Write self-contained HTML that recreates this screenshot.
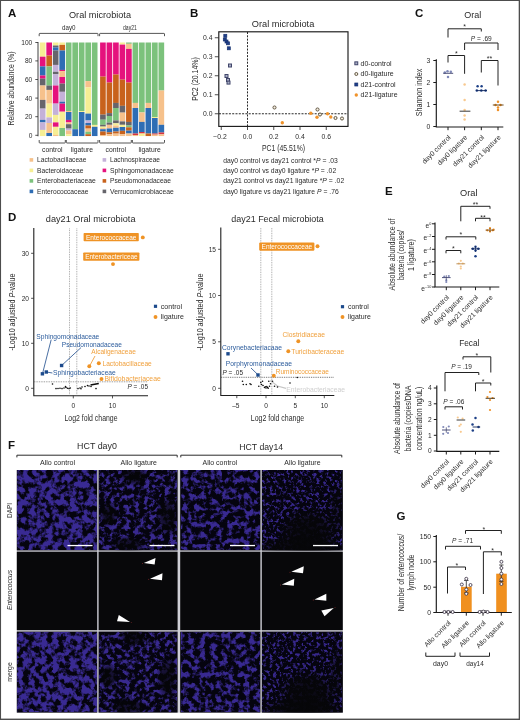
<!DOCTYPE html>
<html lang="en">
<head>
<meta charset="utf-8">
<title>Figure: oral and fecal microbiota after ligature placement</title>
<style>
html,body{margin:0;padding:0;background:#fff;}
body{width:520px;height:720px;overflow:hidden;font-family:"Liberation Sans", sans-serif;}
svg{display:block;font-family:"Liberation Sans", sans-serif;}
</style>
</head>
<body>
<svg width="520" height="720" viewBox="0 0 520 720">
<defs><filter id="nz1" x="0" y="0" width="100%" height="100%" color-interpolation-filters="sRGB"><feTurbulence type="fractalNoise" baseFrequency="0.17" numOctaves="3" seed="3" result="t"/><feColorMatrix in="t" type="matrix" values="0 0 0 0 0.225 0 0 0 0 0.165 0 0 0 0 0.575 5 0 0 0 -1.925"/></filter><filter id="nz2" x="0" y="0" width="100%" height="100%" color-interpolation-filters="sRGB"><feTurbulence type="fractalNoise" baseFrequency="0.2" numOctaves="3" seed="11" result="t"/><feColorMatrix in="t" type="matrix" values="0 0 0 0 0.22 0 0 0 0 0.16 0 0 0 0 0.56 5 0 0 0 -2.325"/></filter><filter id="nz3" x="0" y="0" width="100%" height="100%" color-interpolation-filters="sRGB"><feTurbulence type="fractalNoise" baseFrequency="0.18" numOctaves="3" seed="23" result="t"/><feColorMatrix in="t" type="matrix" values="0 0 0 0 0.22 0 0 0 0 0.16 0 0 0 0 0.57 5 0 0 0 -2.260"/></filter><filter id="nz4" x="0" y="0" width="100%" height="100%" color-interpolation-filters="sRGB"><feTurbulence type="fractalNoise" baseFrequency="0.3" numOctaves="3" seed="37" result="t"/><feColorMatrix in="t" type="matrix" values="0 0 0 0 0.215 0 0 0 0 0.155 0 0 0 0 0.55 5 0 0 0 -2.525"/></filter><radialGradient id="dk"><stop offset="0" stop-color="#060608" stop-opacity="0.95"/><stop offset="0.55" stop-color="#060608" stop-opacity="0.8"/><stop offset="1" stop-color="#060608" stop-opacity="0"/></radialGradient></defs>
<rect x="0" y="0" width="520" height="720" fill="#ffffff"/>
<text x="8.00" y="17.20" font-size="11.5" fill="#111" font-weight="bold">A</text>
<text x="69.00" y="18.30" font-size="9.4" fill="#2b2b2b" textLength="62.00" lengthAdjust="spacingAndGlyphs">Oral microbiota</text>
<text x="62.00" y="30.00" font-size="7" fill="#2b2b2b" textLength="13.50" lengthAdjust="spacingAndGlyphs">day0</text>
<text x="123.00" y="30.00" font-size="7" fill="#2b2b2b" textLength="13.80" lengthAdjust="spacingAndGlyphs">day21</text>
<path d="M39.2,36.2 V34 Q39.2,33.4 39.8,33.4 H97.4 Q98,33.4 98,34 V36.2" stroke="#2b2b2b" stroke-width="0.8" fill="none" />
<path d="M99.6,36.2 V34 Q99.6,33.4 100.2,33.4 H163.9 Q164.5,33.4 164.5,34 V36.2" stroke="#2b2b2b" stroke-width="0.8" fill="none" />
<line x1="38.00" y1="42.00" x2="38.00" y2="136.30" stroke="#2b2b2b" stroke-width="0.9" />
<line x1="35.30" y1="42.50" x2="38.00" y2="42.50" stroke="#2b2b2b" stroke-width="0.8" />
<text x="32.30" y="44.90" font-size="6.6" text-anchor="end" fill="#2b2b2b">100</text>
<line x1="35.30" y1="60.90" x2="38.00" y2="60.90" stroke="#2b2b2b" stroke-width="0.8" />
<text x="32.30" y="63.30" font-size="6.6" text-anchor="end" fill="#2b2b2b">80</text>
<line x1="35.30" y1="79.50" x2="38.00" y2="79.50" stroke="#2b2b2b" stroke-width="0.8" />
<text x="32.30" y="81.90" font-size="6.6" text-anchor="end" fill="#2b2b2b">60</text>
<line x1="35.30" y1="98.10" x2="38.00" y2="98.10" stroke="#2b2b2b" stroke-width="0.8" />
<text x="32.30" y="100.50" font-size="6.6" text-anchor="end" fill="#2b2b2b">40</text>
<line x1="35.30" y1="116.70" x2="38.00" y2="116.70" stroke="#2b2b2b" stroke-width="0.8" />
<text x="32.30" y="119.10" font-size="6.6" text-anchor="end" fill="#2b2b2b">20</text>
<line x1="35.30" y1="135.30" x2="38.00" y2="135.30" stroke="#2b2b2b" stroke-width="0.8" />
<text x="32.30" y="137.70" font-size="6.6" text-anchor="end" fill="#2b2b2b">0</text>
<text x="13.60" y="88.50" font-size="8.6" text-anchor="middle" fill="#2b2b2b" textLength="74.00" lengthAdjust="spacingAndGlyphs" transform="rotate(-90 13.60 88.50)">Relative abundance (%)</text>
<rect x="39.85" y="42.50" width="5.65" height="14.25" fill="#f6ee94" />
<rect x="39.85" y="56.70" width="5.65" height="9.75" fill="#e5127d" />
<rect x="39.85" y="66.40" width="5.65" height="9.15" fill="#2e6db4" />
<rect x="39.85" y="75.50" width="5.65" height="3.15" fill="#e5127d" />
<rect x="39.85" y="78.60" width="5.65" height="6.95" fill="#66656b" />
<rect x="39.85" y="85.50" width="5.65" height="14.45" fill="#f6c18b" />
<rect x="39.85" y="99.90" width="5.65" height="8.75" fill="#66656b" />
<rect x="39.85" y="108.60" width="5.65" height="11.35" fill="#c4b1d9" />
<rect x="39.85" y="119.90" width="5.65" height="2.55" fill="#2e6db4" />
<rect x="39.85" y="122.40" width="5.65" height="7.55" fill="#c4b1d9" />
<rect x="39.85" y="129.90" width="5.65" height="6.15" fill="#f6ee94" />
<rect x="46.35" y="42.50" width="5.65" height="13.05" fill="#e5127d" />
<rect x="46.35" y="55.50" width="5.65" height="10.95" fill="#c8621c" />
<rect x="46.35" y="66.40" width="5.65" height="19.15" fill="#7cc27c" />
<rect x="46.35" y="85.50" width="5.65" height="4.45" fill="#66656b" />
<rect x="46.35" y="89.90" width="5.65" height="13.75" fill="#f6c18b" />
<rect x="46.35" y="103.60" width="5.65" height="13.85" fill="#f6ee94" />
<rect x="46.35" y="117.40" width="5.65" height="5.65" fill="#c4b1d9" />
<rect x="46.35" y="123.00" width="5.65" height="10.05" fill="#f6c18b" />
<rect x="46.35" y="133.00" width="5.65" height="3.05" fill="#2e6db4" />
<rect x="52.85" y="42.50" width="5.65" height="3.05" fill="#f6ee94" />
<rect x="52.85" y="45.50" width="5.65" height="1.95" fill="#66656b" />
<rect x="52.85" y="47.40" width="5.65" height="3.15" fill="#2e6db4" />
<rect x="52.85" y="50.50" width="5.65" height="14.45" fill="#66656b" />
<rect x="52.85" y="64.90" width="5.65" height="6.95" fill="#c4b1d9" />
<rect x="52.85" y="71.80" width="5.65" height="2.55" fill="#66656b" />
<rect x="52.85" y="74.30" width="5.65" height="11.25" fill="#c4b1d9" />
<rect x="52.85" y="85.50" width="5.65" height="18.15" fill="#e5127d" />
<rect x="52.85" y="103.60" width="5.65" height="11.35" fill="#c4b1d9" />
<rect x="52.85" y="114.90" width="5.65" height="7.55" fill="#f6ee94" />
<rect x="52.85" y="122.40" width="5.65" height="4.45" fill="#e5127d" />
<rect x="52.85" y="126.80" width="5.65" height="8.15" fill="#f6ee94" />
<rect x="52.85" y="134.90" width="5.65" height="1.15" fill="#f6c18b" />
<rect x="59.35" y="42.50" width="5.65" height="2.45" fill="#f6ee94" />
<rect x="59.35" y="44.90" width="5.65" height="5.65" fill="#c8621c" />
<rect x="59.35" y="50.50" width="5.65" height="19.45" fill="#2e6db4" />
<rect x="59.35" y="69.90" width="5.65" height="1.25" fill="#e5127d" />
<rect x="59.35" y="71.10" width="5.65" height="5.95" fill="#f6c18b" />
<rect x="59.35" y="77.00" width="5.65" height="6.65" fill="#e5127d" />
<rect x="59.35" y="83.60" width="5.65" height="8.25" fill="#66656b" />
<rect x="59.35" y="91.80" width="5.65" height="9.95" fill="#c4b1d9" />
<rect x="59.35" y="101.70" width="5.65" height="1.95" fill="#2e6db4" />
<rect x="59.35" y="103.60" width="5.65" height="8.15" fill="#e5127d" />
<rect x="59.35" y="111.70" width="5.65" height="16.35" fill="#f6ee94" />
<rect x="59.35" y="128.00" width="5.65" height="8.05" fill="#7cc27c" />
<rect x="65.85" y="42.50" width="5.65" height="68.55" fill="#7cc27c" />
<rect x="65.85" y="111.00" width="5.65" height="1.05" fill="#f6c18b" />
<rect x="65.85" y="112.00" width="5.65" height="7.95" fill="#2e6db4" />
<rect x="65.85" y="119.90" width="5.65" height="2.55" fill="#e5127d" />
<rect x="65.85" y="122.40" width="5.65" height="1.85" fill="#f6c18b" />
<rect x="65.85" y="124.20" width="5.65" height="4.45" fill="#66656b" />
<rect x="65.85" y="128.60" width="5.65" height="1.95" fill="#c4b1d9" />
<rect x="65.85" y="130.50" width="5.65" height="3.75" fill="#f6c18b" />
<rect x="65.85" y="134.20" width="5.65" height="1.85" fill="#f6ee94" />
<rect x="72.35" y="42.50" width="5.65" height="86.75" fill="#7cc27c" />
<rect x="72.35" y="129.20" width="5.65" height="6.85" fill="#2e6db4" />
<rect x="78.85" y="42.50" width="5.65" height="68.55" fill="#7cc27c" />
<rect x="78.85" y="111.00" width="5.65" height="1.05" fill="#f6ee94" />
<rect x="78.85" y="112.00" width="5.65" height="24.05" fill="#2e6db4" />
<rect x="85.35" y="42.50" width="5.65" height="38.65" fill="#7cc27c" />
<rect x="85.35" y="81.10" width="5.65" height="6.35" fill="#f6c18b" />
<rect x="85.35" y="87.40" width="5.65" height="26.25" fill="#f6ee94" />
<rect x="85.35" y="113.60" width="5.65" height="6.95" fill="#2e6db4" />
<rect x="85.35" y="120.50" width="5.65" height="2.55" fill="#c4b1d9" />
<rect x="85.35" y="123.00" width="5.65" height="2.55" fill="#2e6db4" />
<rect x="85.35" y="125.50" width="5.65" height="3.15" fill="#c8621c" />
<rect x="85.35" y="128.60" width="5.65" height="3.15" fill="#f6c18b" />
<rect x="85.35" y="131.70" width="5.65" height="2.55" fill="#7cc27c" />
<rect x="85.35" y="134.20" width="5.65" height="1.85" fill="#c8621c" />
<rect x="91.85" y="42.50" width="5.65" height="82.45" fill="#7cc27c" />
<rect x="91.85" y="124.90" width="5.65" height="1.95" fill="#f6ee94" />
<rect x="91.85" y="126.80" width="5.65" height="9.25" fill="#2e6db4" />
<rect x="100.10" y="42.50" width="5.65" height="34.15" fill="#e5127d" />
<rect x="100.10" y="76.60" width="5.65" height="38.05" fill="#c8621c" />
<rect x="100.10" y="114.60" width="5.65" height="5.15" fill="#66656b" />
<rect x="100.10" y="119.70" width="5.65" height="5.15" fill="#7cc27c" />
<rect x="100.10" y="124.80" width="5.65" height="1.85" fill="#66656b" />
<rect x="100.10" y="126.60" width="5.65" height="1.45" fill="#f6ee94" />
<rect x="100.10" y="128.00" width="5.65" height="1.25" fill="#f6c18b" />
<rect x="100.10" y="129.20" width="5.65" height="2.35" fill="#2e6db4" />
<rect x="100.10" y="131.50" width="5.65" height="3.55" fill="#c8621c" />
<rect x="100.10" y="135.00" width="5.65" height="1.05" fill="#f6c18b" />
<rect x="106.59" y="42.50" width="5.65" height="40.05" fill="#e5127d" />
<rect x="106.59" y="82.50" width="5.65" height="30.65" fill="#c8621c" />
<rect x="106.59" y="113.10" width="5.65" height="2.95" fill="#66656b" />
<rect x="106.59" y="116.00" width="5.65" height="6.65" fill="#7cc27c" />
<rect x="106.59" y="122.60" width="5.65" height="2.25" fill="#66656b" />
<rect x="106.59" y="124.80" width="5.65" height="3.75" fill="#f6c18b" />
<rect x="106.59" y="128.50" width="5.65" height="3.85" fill="#2e6db4" />
<rect x="106.59" y="132.30" width="5.65" height="1.95" fill="#c8621c" />
<rect x="106.59" y="134.20" width="5.65" height="1.85" fill="#f6c18b" />
<rect x="113.08" y="42.50" width="5.65" height="32.05" fill="#e5127d" />
<rect x="113.08" y="74.50" width="5.65" height="28.45" fill="#c8621c" />
<rect x="113.08" y="102.90" width="5.65" height="5.15" fill="#66656b" />
<rect x="113.08" y="108.00" width="5.65" height="12.45" fill="#7cc27c" />
<rect x="113.08" y="120.40" width="5.65" height="2.95" fill="#66656b" />
<rect x="113.08" y="123.30" width="5.65" height="2.25" fill="#f6ee94" />
<rect x="113.08" y="125.50" width="5.65" height="2.35" fill="#f6c18b" />
<rect x="113.08" y="127.80" width="5.65" height="3.75" fill="#2e6db4" />
<rect x="113.08" y="131.50" width="5.65" height="2.15" fill="#c8621c" />
<rect x="113.08" y="133.60" width="5.65" height="2.45" fill="#f6c18b" />
<rect x="119.57" y="42.50" width="5.65" height="2.15" fill="#f6ee94" />
<rect x="119.57" y="44.60" width="5.65" height="35.05" fill="#e5127d" />
<rect x="119.57" y="79.60" width="5.65" height="26.25" fill="#c8621c" />
<rect x="119.57" y="105.80" width="5.65" height="6.85" fill="#66656b" />
<rect x="119.57" y="112.60" width="5.65" height="8.85" fill="#f6c18b" />
<rect x="119.57" y="121.40" width="5.65" height="3.45" fill="#66656b" />
<rect x="119.57" y="124.80" width="5.65" height="2.25" fill="#f6ee94" />
<rect x="119.57" y="127.00" width="5.65" height="3.85" fill="#2e6db4" />
<rect x="119.57" y="130.80" width="5.65" height="3.45" fill="#c8621c" />
<rect x="119.57" y="134.20" width="5.65" height="1.85" fill="#f6c18b" />
<rect x="126.06" y="42.50" width="5.65" height="1.35" fill="#7cc27c" />
<rect x="126.06" y="43.80" width="5.65" height="5.15" fill="#f6c18b" />
<rect x="126.06" y="48.90" width="5.65" height="33.65" fill="#e5127d" />
<rect x="126.06" y="82.50" width="5.65" height="39.45" fill="#c8621c" />
<rect x="126.06" y="121.90" width="5.65" height="3.65" fill="#66656b" />
<rect x="126.06" y="125.50" width="5.65" height="1.85" fill="#7cc27c" />
<rect x="126.06" y="127.30" width="5.65" height="3.35" fill="#c8621c" />
<rect x="126.06" y="130.60" width="5.65" height="2.95" fill="#2e6db4" />
<rect x="126.06" y="133.50" width="5.65" height="2.55" fill="#f6c18b" />
<rect x="132.55" y="42.50" width="5.65" height="60.45" fill="#7cc27c" />
<rect x="132.55" y="102.90" width="5.65" height="5.15" fill="#f6c18b" />
<rect x="132.55" y="108.00" width="5.65" height="25.55" fill="#2e6db4" />
<rect x="132.55" y="133.50" width="5.65" height="1.55" fill="#d8343f" />
<rect x="132.55" y="135.00" width="5.65" height="1.05" fill="#f6c18b" />
<rect x="139.04" y="42.50" width="5.65" height="69.95" fill="#7cc27c" />
<rect x="139.04" y="112.40" width="5.65" height="9.55" fill="#f6c18b" />
<rect x="139.04" y="121.90" width="5.65" height="10.15" fill="#2e6db4" />
<rect x="139.04" y="132.00" width="5.65" height="1.55" fill="#d8343f" />
<rect x="139.04" y="133.50" width="5.65" height="2.55" fill="#f6ee94" />
<rect x="145.53" y="42.50" width="5.65" height="60.45" fill="#7cc27c" />
<rect x="145.53" y="102.90" width="5.65" height="5.15" fill="#f6c18b" />
<rect x="145.53" y="108.00" width="5.65" height="25.55" fill="#2e6db4" />
<rect x="145.53" y="133.50" width="5.65" height="2.55" fill="#c8621c" />
<rect x="152.02" y="42.50" width="5.65" height="74.55" fill="#7cc27c" />
<rect x="152.02" y="117.00" width="5.65" height="1.05" fill="#f6ee94" />
<rect x="152.02" y="118.00" width="5.65" height="15.55" fill="#2e6db4" />
<rect x="152.02" y="133.50" width="5.65" height="1.15" fill="#d8343f" />
<rect x="152.02" y="134.60" width="5.65" height="1.45" fill="#f6c18b" />
<rect x="158.51" y="42.50" width="5.65" height="48.05" fill="#7cc27c" />
<rect x="158.51" y="90.50" width="5.65" height="34.35" fill="#f6c18b" />
<rect x="158.51" y="124.80" width="5.65" height="7.75" fill="#2e6db4" />
<rect x="158.51" y="132.50" width="5.65" height="1.85" fill="#d8343f" />
<rect x="158.51" y="134.30" width="5.65" height="1.75" fill="#f6c18b" />
<path d="M39.2,140 V142.3 Q39.2,143 39.9,143 H64.6 Q65.3,143 65.3,142.3 V140" stroke="#2b2b2b" stroke-width="0.8" fill="none" />
<path d="M66.3,140 V142.3 Q66.3,143 67,143 H97.3 Q98,143 98,142.3 V140" stroke="#2b2b2b" stroke-width="0.8" fill="none" />
<path d="M99.6,140 V142.3 Q99.6,143 100.3,143 H130.6 Q131.3,143 131.3,142.3 V140" stroke="#2b2b2b" stroke-width="0.8" fill="none" />
<path d="M132.4,140 V142.3 Q132.4,143 133.1,143 H163.8 Q164.5,143 164.5,142.3 V140" stroke="#2b2b2b" stroke-width="0.8" fill="none" />
<text x="42.00" y="152.00" font-size="7" fill="#2b2b2b" textLength="20.50" lengthAdjust="spacingAndGlyphs">control</text>
<text x="70.80" y="152.00" font-size="7" fill="#2b2b2b" textLength="22.20" lengthAdjust="spacingAndGlyphs">ligature</text>
<text x="105.50" y="152.00" font-size="7" fill="#2b2b2b" textLength="20.50" lengthAdjust="spacingAndGlyphs">control</text>
<text x="138.50" y="152.00" font-size="7" fill="#2b2b2b" textLength="22.20" lengthAdjust="spacingAndGlyphs">ligature</text>
<rect x="29.60" y="158.10" width="3.60" height="3.60" fill="#f6c18b" />
<text x="37.00" y="162.40" font-size="6.9" fill="#2b2b2b" textLength="49.50" lengthAdjust="spacingAndGlyphs">Lactobacillaceae</text>
<rect x="29.60" y="168.60" width="3.60" height="3.60" fill="#f6ee94" />
<text x="37.00" y="172.90" font-size="6.9" fill="#2b2b2b" textLength="46.50" lengthAdjust="spacingAndGlyphs">Bacteroidaceae</text>
<rect x="29.60" y="179.10" width="3.60" height="3.60" fill="#7cc27c" />
<text x="37.00" y="183.40" font-size="6.9" fill="#2b2b2b" textLength="58.70" lengthAdjust="spacingAndGlyphs">Enterobacteriaceae</text>
<rect x="29.60" y="189.60" width="3.60" height="3.60" fill="#2e6db4" />
<text x="37.00" y="193.90" font-size="6.9" fill="#2b2b2b" textLength="51.50" lengthAdjust="spacingAndGlyphs">Enterococcaceae</text>
<rect x="102.60" y="158.10" width="3.60" height="3.60" fill="#c4b1d9" />
<text x="110.00" y="162.40" font-size="6.9" fill="#2b2b2b" textLength="50.00" lengthAdjust="spacingAndGlyphs">Lachnospiraceae</text>
<rect x="102.60" y="168.60" width="3.60" height="3.60" fill="#e5127d" />
<text x="110.00" y="172.90" font-size="6.9" fill="#2b2b2b" textLength="63.70" lengthAdjust="spacingAndGlyphs">Sphingomonadaceae</text>
<rect x="102.60" y="179.10" width="3.60" height="3.60" fill="#c8621c" />
<text x="110.00" y="183.40" font-size="6.9" fill="#2b2b2b" textLength="61.00" lengthAdjust="spacingAndGlyphs">Pseudomonadaceae</text>
<rect x="102.60" y="189.60" width="3.60" height="3.60" fill="#66656b" />
<text x="110.00" y="193.90" font-size="6.9" fill="#2b2b2b" textLength="63.70" lengthAdjust="spacingAndGlyphs">Verrucomicrobiaceae</text>
<text x="190.00" y="17.20" font-size="11.5" fill="#111" font-weight="bold">B</text>
<text x="251.80" y="27.00" font-size="9.4" fill="#2b2b2b" textLength="62.50" lengthAdjust="spacingAndGlyphs">Oral microbiota</text>
<rect x="218.8" y="31.8" width="129.2" height="94.6" fill="none" stroke="#1a1a1a" stroke-width="1.15"/>
<line x1="214.80" y1="37.75" x2="218.80" y2="37.75" stroke="#2b2b2b" stroke-width="0.85" />
<text x="212.50" y="40.15" font-size="6.8" text-anchor="end" fill="#2b2b2b">0.4</text>
<line x1="214.80" y1="56.75" x2="218.80" y2="56.75" stroke="#2b2b2b" stroke-width="0.85" />
<text x="212.50" y="59.15" font-size="6.8" text-anchor="end" fill="#2b2b2b">0.3</text>
<line x1="214.80" y1="75.75" x2="218.80" y2="75.75" stroke="#2b2b2b" stroke-width="0.85" />
<text x="212.50" y="78.15" font-size="6.8" text-anchor="end" fill="#2b2b2b">0.2</text>
<line x1="214.80" y1="94.75" x2="218.80" y2="94.75" stroke="#2b2b2b" stroke-width="0.85" />
<text x="212.50" y="97.15" font-size="6.8" text-anchor="end" fill="#2b2b2b">0.1</text>
<line x1="214.80" y1="113.75" x2="218.80" y2="113.75" stroke="#2b2b2b" stroke-width="0.85" />
<text x="212.50" y="116.15" font-size="6.8" text-anchor="end" fill="#2b2b2b">0.0</text>
<line x1="221.25" y1="126.40" x2="221.25" y2="130.00" stroke="#2b2b2b" stroke-width="0.85" />
<text x="220.05" y="138.60" font-size="6.8" text-anchor="middle" fill="#2b2b2b">−0.2</text>
<line x1="247.50" y1="126.40" x2="247.50" y2="130.00" stroke="#2b2b2b" stroke-width="0.85" />
<text x="247.50" y="138.60" font-size="6.8" text-anchor="middle" fill="#2b2b2b">0.0</text>
<line x1="273.75" y1="126.40" x2="273.75" y2="130.00" stroke="#2b2b2b" stroke-width="0.85" />
<text x="273.75" y="138.60" font-size="6.8" text-anchor="middle" fill="#2b2b2b">0.2</text>
<line x1="300.00" y1="126.40" x2="300.00" y2="130.00" stroke="#2b2b2b" stroke-width="0.85" />
<text x="300.00" y="138.60" font-size="6.8" text-anchor="middle" fill="#2b2b2b">0.4</text>
<line x1="326.25" y1="126.40" x2="326.25" y2="130.00" stroke="#2b2b2b" stroke-width="0.85" />
<text x="326.25" y="138.60" font-size="6.8" text-anchor="middle" fill="#2b2b2b">0.6</text>
<line x1="247.50" y1="32.00" x2="247.50" y2="126.20" stroke="#111" stroke-width="0.9" stroke-dasharray="2 1.3"/>
<line x1="219.00" y1="113.75" x2="347.80" y2="113.75" stroke="#111" stroke-width="0.9" stroke-dasharray="2 1.3"/>
<text x="283.50" y="151.40" font-size="8.6" text-anchor="middle" fill="#2b2b2b" textLength="43.00" lengthAdjust="spacingAndGlyphs">PC1 (45.51%)</text>
<text x="198.20" y="79.00" font-size="8.6" text-anchor="middle" fill="#2b2b2b" textLength="43.50" lengthAdjust="spacingAndGlyphs" transform="rotate(-90 198.20 79.00)">PC2 (20.14%)</text>
<rect x="223.80" y="34.30" width="3.0" height="3.0" fill="#1f3f8a" stroke="#16306e" stroke-width="0.7"/>
<rect x="223.30" y="38.00" width="3.0" height="3.0" fill="#1f3f8a" stroke="#16306e" stroke-width="0.7"/>
<rect x="225.00" y="40.00" width="3.0" height="3.0" fill="#1f3f8a" stroke="#16306e" stroke-width="0.7"/>
<rect x="226.50" y="41.80" width="3.0" height="3.0" fill="#1f3f8a" stroke="#16306e" stroke-width="0.7"/>
<rect x="227.30" y="46.80" width="3.0" height="3.0" fill="#1f3f8a" stroke="#16306e" stroke-width="0.7"/>
<rect x="228.50" y="64.00" width="3.0" height="3.0" fill="#a9aec6" stroke="#41466a" stroke-width="1.0"/>
<rect x="225.00" y="74.50" width="3.0" height="3.0" fill="#a9aec6" stroke="#41466a" stroke-width="1.0"/>
<rect x="226.50" y="78.50" width="3.0" height="3.0" fill="#a9aec6" stroke="#41466a" stroke-width="1.0"/>
<rect x="227.00" y="81.10" width="3.0" height="3.0" fill="#a9aec6" stroke="#41466a" stroke-width="1.0"/>
<circle cx="282.30" cy="122.80" r="1.7" fill="#f0932b" />
<circle cx="310.80" cy="113.30" r="1.7" fill="#f0932b" />
<circle cx="317.00" cy="117.20" r="1.7" fill="#f0932b" />
<circle cx="327.50" cy="113.80" r="1.7" fill="#f0932b" />
<circle cx="330.80" cy="117.00" r="1.7" fill="#f0932b" />
<circle cx="274.50" cy="107.50" r="1.55" fill="#f6efe2" stroke="#5b503c" stroke-width="0.95" />
<circle cx="317.50" cy="109.50" r="1.55" fill="#f6efe2" stroke="#5b503c" stroke-width="0.95" />
<circle cx="320.00" cy="114.50" r="1.55" fill="#f6efe2" stroke="#5b503c" stroke-width="0.95" />
<circle cx="335.50" cy="118.00" r="1.55" fill="#f6efe2" stroke="#5b503c" stroke-width="0.95" />
<circle cx="342.00" cy="118.50" r="1.55" fill="#f6efe2" stroke="#5b503c" stroke-width="0.95" />
<rect x="354.85" y="61.85" width="2.9" height="2.9" fill="#a9aec6" stroke="#41466a" stroke-width="1.0"/>
<circle cx="356.30" cy="74.00" r="1.5" fill="#f6efe2" stroke="#5b503c" stroke-width="0.95" />
<rect x="354.80" y="83.00" width="3.0" height="3.0" fill="#1f3f8a" stroke="#16306e" stroke-width="0.7"/>
<circle cx="356.30" cy="95.00" r="1.7" fill="#f0932b" />
<text x="360.60" y="65.60" font-size="6.8" fill="#2b2b2b" textLength="31.00" lengthAdjust="spacingAndGlyphs">d0-control</text>
<text x="360.60" y="76.30" font-size="6.8" fill="#2b2b2b" textLength="33.00" lengthAdjust="spacingAndGlyphs">d0-ligature</text>
<text x="360.60" y="86.80" font-size="6.8" fill="#2b2b2b" textLength="35.00" lengthAdjust="spacingAndGlyphs">d21-control</text>
<text x="360.60" y="97.30" font-size="6.8" fill="#2b2b2b" textLength="37.00" lengthAdjust="spacingAndGlyphs">d21-ligature</text>
<text x="223.2" y="162.5" font-size="6.5" fill="#2b2b2b" textLength="114.5" lengthAdjust="spacingAndGlyphs">day0 control vs day21 control *<tspan font-style="italic">P</tspan> = .03</text>
<text x="223.2" y="172.9" font-size="6.5" fill="#2b2b2b" textLength="113" lengthAdjust="spacingAndGlyphs">day0 control vs day0 ligature *<tspan font-style="italic">P</tspan> = .02</text>
<text x="223.2" y="183.3" font-size="6.5" fill="#2b2b2b" textLength="121" lengthAdjust="spacingAndGlyphs">day21 control vs day21 ligature *<tspan font-style="italic">P</tspan> = .02</text>
<text x="223.2" y="193.8" font-size="6.5" fill="#2b2b2b" textLength="115.5" lengthAdjust="spacingAndGlyphs">day0 ligature vs day21 ligature <tspan font-style="italic">P</tspan> = .76</text>
<text x="415.00" y="17.20" font-size="11.5" fill="#111" font-weight="bold">C</text>
<text x="472.80" y="18.30" font-size="9.4" text-anchor="middle" fill="#2b2b2b" textLength="17.00" lengthAdjust="spacingAndGlyphs">Oral</text>
<path d="M436.3,59.3 V127 H503.3" stroke="#1a1a1a" stroke-width="1.15" fill="none" />
<line x1="433.30" y1="60.50" x2="436.30" y2="60.50" stroke="#1a1a1a" stroke-width="1.0" />
<text x="430.20" y="62.90" font-size="6.8" text-anchor="end" fill="#2b2b2b">3</text>
<line x1="433.30" y1="82.50" x2="436.30" y2="82.50" stroke="#1a1a1a" stroke-width="1.0" />
<text x="430.20" y="84.90" font-size="6.8" text-anchor="end" fill="#2b2b2b">2</text>
<line x1="433.30" y1="104.50" x2="436.30" y2="104.50" stroke="#1a1a1a" stroke-width="1.0" />
<text x="430.20" y="106.90" font-size="6.8" text-anchor="end" fill="#2b2b2b">1</text>
<line x1="433.30" y1="126.50" x2="436.30" y2="126.50" stroke="#1a1a1a" stroke-width="1.0" />
<text x="430.20" y="128.90" font-size="6.8" text-anchor="end" fill="#2b2b2b">0</text>
<line x1="448.00" y1="127.00" x2="448.00" y2="130.20" stroke="#1a1a1a" stroke-width="1.0" />
<line x1="464.60" y1="127.00" x2="464.60" y2="130.20" stroke="#1a1a1a" stroke-width="1.0" />
<line x1="481.30" y1="127.00" x2="481.30" y2="130.20" stroke="#1a1a1a" stroke-width="1.0" />
<line x1="498.00" y1="127.00" x2="498.00" y2="130.20" stroke="#1a1a1a" stroke-width="1.0" />
<text x="422.30" y="92.50" font-size="8.6" text-anchor="middle" fill="#2b2b2b" textLength="47.50" lengthAdjust="spacingAndGlyphs" transform="rotate(-90 422.30 92.50)">Shannon index</text>
<text x="451.20" y="137.80" font-size="6.9" text-anchor="end" fill="#2b2b2b" transform="rotate(-45 451.20 137.80)">day0 control</text>
<text x="467.80" y="137.80" font-size="6.9" text-anchor="end" fill="#2b2b2b" transform="rotate(-45 467.80 137.80)">day0 ligature</text>
<text x="484.50" y="137.80" font-size="6.9" text-anchor="end" fill="#2b2b2b" transform="rotate(-45 484.50 137.80)">day21 control</text>
<text x="501.20" y="137.80" font-size="6.9" text-anchor="end" fill="#2b2b2b" transform="rotate(-45 501.20 137.80)">day21 ligature</text>
<path d="M448,37.5 V28.8 H481.3 V31.5" stroke="#222" stroke-width="1.0" fill="none" />
<text x="464.60" y="29.20" font-size="7" text-anchor="middle" fill="#2b2b2b">*</text>
<path d="M464.6,50 V43 H498 V50" stroke="#222" stroke-width="1.0" fill="none" />
<text x="481.2" y="40.6" font-size="6.6" text-anchor="middle" fill="#2b2b2b"><tspan font-style="italic">P</tspan> = .69</text>
<path d="M448,62.5 V55.5 H464.6 V73.8" stroke="#222" stroke-width="1.0" fill="none" />
<text x="456.30" y="56.40" font-size="7" text-anchor="middle" fill="#2b2b2b">*</text>
<path d="M481.3,72.5 V60.5 H498 V85.5" stroke="#222" stroke-width="1.0" fill="none" />
<text x="489.60" y="61.20" font-size="7" text-anchor="middle" fill="#2b2b2b">**</text>
<circle cx="444.80" cy="72.60" r="1.25" fill="#8089b8" />
<circle cx="447.50" cy="71.30" r="1.25" fill="#8089b8" />
<circle cx="450.80" cy="71.80" r="1.25" fill="#8089b8" />
<circle cx="448.00" cy="77.00" r="1.25" fill="#8089b8" />
<line x1="443.20" y1="73.30" x2="453.20" y2="73.30" stroke="#3b3f6b" stroke-width="0.9" />
<circle cx="464.60" cy="84.50" r="1.25" fill="#f8c98f" />
<circle cx="464.60" cy="100.00" r="1.25" fill="#f8c98f" />
<circle cx="464.60" cy="110.00" r="1.25" fill="#f8c98f" />
<circle cx="464.60" cy="115.50" r="1.25" fill="#f8c98f" />
<circle cx="464.60" cy="119.50" r="1.25" fill="#f8c98f" />
<line x1="459.60" y1="111.20" x2="470.40" y2="111.20" stroke="#222" stroke-width="0.9" />
<circle cx="477.60" cy="86.30" r="1.25" fill="#1c3f86" />
<circle cx="481.60" cy="86.30" r="1.25" fill="#1c3f86" />
<circle cx="476.80" cy="90.50" r="1.25" fill="#1c3f86" />
<circle cx="481.30" cy="90.50" r="1.25" fill="#1c3f86" />
<circle cx="485.60" cy="90.50" r="1.25" fill="#1c3f86" />
<line x1="476.20" y1="90.60" x2="487.00" y2="90.60" stroke="#10275c" stroke-width="0.9" />
<circle cx="498.00" cy="101.80" r="1.25" fill="#ef9128" />
<circle cx="495.50" cy="105.00" r="1.25" fill="#ef9128" />
<circle cx="500.50" cy="105.00" r="1.25" fill="#ef9128" />
<circle cx="498.00" cy="107.50" r="1.25" fill="#ef9128" />
<circle cx="498.00" cy="110.00" r="1.25" fill="#ef9128" />
<line x1="492.80" y1="105.00" x2="503.60" y2="105.00" stroke="#5a3a10" stroke-width="0.9" />
<text x="8.00" y="221.30" font-size="11.5" fill="#111" font-weight="bold">D</text>
<text x="45.80" y="222.30" font-size="9.4" fill="#2b2b2b" textLength="89.70" lengthAdjust="spacingAndGlyphs">day21 Oral microbiota</text>
<path d="M33.8,228 V395.7 H148" stroke="#1e1e1e" stroke-width="1.1" fill="none" />
<line x1="31.10" y1="253.30" x2="33.80" y2="253.30" stroke="#2b2b2b" stroke-width="0.8" />
<text x="29.00" y="255.70" font-size="6.6" text-anchor="end" fill="#2b2b2b">30</text>
<line x1="31.10" y1="298.30" x2="33.80" y2="298.30" stroke="#2b2b2b" stroke-width="0.8" />
<text x="29.00" y="300.70" font-size="6.6" text-anchor="end" fill="#2b2b2b">20</text>
<line x1="31.10" y1="343.30" x2="33.80" y2="343.30" stroke="#2b2b2b" stroke-width="0.8" />
<text x="29.00" y="345.70" font-size="6.6" text-anchor="end" fill="#2b2b2b">10</text>
<line x1="31.10" y1="388.30" x2="33.80" y2="388.30" stroke="#2b2b2b" stroke-width="0.8" />
<text x="29.00" y="390.70" font-size="6.6" text-anchor="end" fill="#2b2b2b">0</text>
<line x1="73.30" y1="395.70" x2="73.30" y2="398.40" stroke="#2b2b2b" stroke-width="0.8" />
<text x="73.30" y="408.00" font-size="6.6" text-anchor="middle" fill="#2b2b2b">0</text>
<line x1="112.50" y1="395.70" x2="112.50" y2="398.40" stroke="#2b2b2b" stroke-width="0.8" />
<text x="112.50" y="408.00" font-size="6.6" text-anchor="middle" fill="#2b2b2b">10</text>
<text x="91.00" y="421.00" font-size="8.6" text-anchor="middle" fill="#2b2b2b" textLength="53.00" lengthAdjust="spacingAndGlyphs">Log2 fold change</text>
<text x="14.50" y="312.00" font-size="8.6" text-anchor="middle" fill="#2b2b2b" textLength="77.00" lengthAdjust="spacingAndGlyphs" transform="rotate(-90 14.50 312.00)">-Log10 adjusted <tspan font-style="italic">P</tspan>-value</text>
<line x1="69.50" y1="228.50" x2="69.50" y2="395.50" stroke="#777" stroke-width="0.7" stroke-dasharray="0.8 0.9"/>
<line x1="76.80" y1="228.50" x2="76.80" y2="395.50" stroke="#777" stroke-width="0.7" stroke-dasharray="0.8 0.9"/>
<line x1="34.00" y1="381.80" x2="148.00" y2="381.80" stroke="#555" stroke-width="0.7" stroke-dasharray="0.8 0.9"/>
<rect x="83.6" y="232.9" width="55.2" height="8.3" rx="0.8" fill="#ef9325"/>
<text x="86.00" y="239.60" font-size="6.9" fill="#fff" textLength="50.50" lengthAdjust="spacingAndGlyphs">Enterococcaceae</text>
<circle cx="142.80" cy="237.40" r="1.95" fill="#ef9325" />
<rect x="83.2" y="252.4" width="56.2" height="8.3" rx="0.8" fill="#ef9325"/>
<text x="85.20" y="259.10" font-size="6.9" fill="#fff" textLength="52.50" lengthAdjust="spacingAndGlyphs">Enterobactericeae</text>
<circle cx="113.00" cy="264.10" r="1.95" fill="#ef9325" />
<text x="36.30" y="338.70" font-size="6.9" fill="#2c5c9c" textLength="63.00" lengthAdjust="spacingAndGlyphs">Sphingomonadaceae</text>
<text x="61.80" y="346.70" font-size="6.9" fill="#2c5c9c" textLength="60.00" lengthAdjust="spacingAndGlyphs">Pseudomonadaceae</text>
<text x="53.00" y="375.00" font-size="6.9" fill="#2c5c9c" textLength="62.80" lengthAdjust="spacingAndGlyphs">Sphingobacteriaceae</text>
<line x1="51.20" y1="339.60" x2="42.80" y2="372.50" stroke="#1c4a8c" stroke-width="0.8" />
<line x1="81.00" y1="347.60" x2="62.40" y2="364.80" stroke="#1c4a8c" stroke-width="0.8" />
<line x1="47.50" y1="372.20" x2="52.40" y2="373.00" stroke="#1c4a8c" stroke-width="0.8" />
<rect x="40.70" y="372.10" width="3.40" height="3.40" fill="#1c4a8c" />
<rect x="44.60" y="370.30" width="3.40" height="3.40" fill="#1c4a8c" />
<rect x="59.90" y="363.80" width="3.40" height="3.40" fill="#1c4a8c" />
<text x="91.30" y="354.20" font-size="6.9" fill="#f0a03c" textLength="44.50" lengthAdjust="spacingAndGlyphs">Alcaligenaceae</text>
<line x1="95.00" y1="356.00" x2="89.80" y2="365.60" stroke="#ef9325" stroke-width="0.8" />
<circle cx="89.30" cy="366.30" r="1.95" fill="#ef9325" />
<circle cx="98.80" cy="363.30" r="1.95" fill="#ef9325" />
<text x="102.50" y="365.70" font-size="6.9" fill="#f0a03c" textLength="49.30" lengthAdjust="spacingAndGlyphs">Lactobacillaceae</text>
<circle cx="101.50" cy="379.00" r="1.95" fill="#ef9325" />
<text x="104.50" y="381.20" font-size="6.9" fill="#f0a03c" textLength="56.30" lengthAdjust="spacingAndGlyphs">Bifidobacteriaceae</text>
<text x="127.5" y="389.4" font-size="6.5" fill="#2b2b2b" textLength="20.5" lengthAdjust="spacingAndGlyphs"><tspan font-style="italic">P</tspan> = .05</text>
<circle cx="52.50" cy="384.00" r="0.8" fill="#0c0c0c" />
<circle cx="56.00" cy="388.60" r="0.8" fill="#0c0c0c" />
<circle cx="58.00" cy="388.50" r="0.8" fill="#0c0c0c" />
<circle cx="60.00" cy="388.20" r="0.8" fill="#0c0c0c" />
<circle cx="62.00" cy="388.60" r="0.8" fill="#0c0c0c" />
<circle cx="64.00" cy="388.00" r="0.8" fill="#0c0c0c" />
<circle cx="66.00" cy="387.50" r="0.8" fill="#0c0c0c" />
<circle cx="67.50" cy="388.20" r="0.8" fill="#0c0c0c" />
<circle cx="69.00" cy="388.60" r="0.8" fill="#0c0c0c" />
<circle cx="70.30" cy="388.00" r="0.8" fill="#0c0c0c" />
<circle cx="78.00" cy="388.60" r="0.8" fill="#0c0c0c" />
<circle cx="80.00" cy="388.00" r="0.8" fill="#0c0c0c" />
<circle cx="82.00" cy="387.00" r="0.8" fill="#0c0c0c" />
<circle cx="85.00" cy="386.50" r="0.8" fill="#0c0c0c" />
<circle cx="87.50" cy="385.60" r="0.8" fill="#0c0c0c" />
<circle cx="89.00" cy="386.00" r="0.8" fill="#0c0c0c" />
<circle cx="91.00" cy="386.50" r="0.8" fill="#0c0c0c" />
<circle cx="96.00" cy="388.60" r="0.8" fill="#0c0c0c" />
<circle cx="65.50" cy="386.60" r="0.8" fill="#0c0c0c" />
<circle cx="81.00" cy="388.80" r="0.8" fill="#0c0c0c" />
<line x1="90.50" y1="384.90" x2="98.80" y2="383.40" stroke="#0c0c0c" stroke-width="1.5" />
<rect x="153.90" y="304.70" width="3.20" height="3.20" fill="#1c4a8c" />
<text x="160.80" y="308.70" font-size="6.8" fill="#2b2b2b" textLength="21.20" lengthAdjust="spacingAndGlyphs">control</text>
<circle cx="155.50" cy="317.00" r="1.95" fill="#ef9325" />
<text x="160.80" y="319.40" font-size="6.8" fill="#2b2b2b" textLength="23.00" lengthAdjust="spacingAndGlyphs">ligature</text>
<text x="231.30" y="222.30" font-size="9.4" fill="#2b2b2b" textLength="92.50" lengthAdjust="spacingAndGlyphs">day21 Fecal microbiota</text>
<path d="M220.8,227.5 V395.5 H334.3" stroke="#1e1e1e" stroke-width="1.1" fill="none" />
<line x1="218.10" y1="249.30" x2="220.80" y2="249.30" stroke="#2b2b2b" stroke-width="0.8" />
<text x="216.00" y="251.70" font-size="6.6" text-anchor="end" fill="#2b2b2b">15</text>
<line x1="218.10" y1="295.50" x2="220.80" y2="295.50" stroke="#2b2b2b" stroke-width="0.8" />
<text x="216.00" y="297.90" font-size="6.6" text-anchor="end" fill="#2b2b2b">10</text>
<line x1="218.10" y1="341.80" x2="220.80" y2="341.80" stroke="#2b2b2b" stroke-width="0.8" />
<text x="216.00" y="344.20" font-size="6.6" text-anchor="end" fill="#2b2b2b">5</text>
<line x1="218.10" y1="388.30" x2="220.80" y2="388.30" stroke="#2b2b2b" stroke-width="0.8" />
<text x="216.00" y="390.70" font-size="6.6" text-anchor="end" fill="#2b2b2b">0</text>
<line x1="236.80" y1="395.50" x2="236.80" y2="398.20" stroke="#2b2b2b" stroke-width="0.8" />
<text x="235.80" y="408.00" font-size="6.6" text-anchor="middle" fill="#2b2b2b">–5</text>
<line x1="266.00" y1="395.50" x2="266.00" y2="398.20" stroke="#2b2b2b" stroke-width="0.8" />
<text x="266.00" y="408.00" font-size="6.6" text-anchor="middle" fill="#2b2b2b">0</text>
<line x1="295.30" y1="395.50" x2="295.30" y2="398.20" stroke="#2b2b2b" stroke-width="0.8" />
<text x="295.30" y="408.00" font-size="6.6" text-anchor="middle" fill="#2b2b2b">5</text>
<line x1="324.30" y1="395.50" x2="324.30" y2="398.20" stroke="#2b2b2b" stroke-width="0.8" />
<text x="324.30" y="408.00" font-size="6.6" text-anchor="middle" fill="#2b2b2b">10</text>
<text x="277.50" y="421.30" font-size="8.6" text-anchor="middle" fill="#2b2b2b" textLength="53.50" lengthAdjust="spacingAndGlyphs">Log2 fold change</text>
<text x="203.00" y="312.00" font-size="8.6" text-anchor="middle" fill="#2b2b2b" textLength="77.00" lengthAdjust="spacingAndGlyphs" transform="rotate(-90 203.00 312.00)">-Log10 adjusted <tspan font-style="italic">P</tspan>-value</text>
<line x1="260.80" y1="228.00" x2="260.80" y2="395.30" stroke="#777" stroke-width="0.7" stroke-dasharray="0.8 0.9"/>
<line x1="271.80" y1="228.00" x2="271.80" y2="395.30" stroke="#777" stroke-width="0.7" stroke-dasharray="0.8 0.9"/>
<line x1="221.00" y1="377.30" x2="334.30" y2="377.30" stroke="#444" stroke-width="0.8" stroke-dasharray="0.9 0.9"/>
<rect x="259.2" y="242.4" width="55.2" height="8.4" rx="1.2" fill="#ef9325"/>
<text x="261.50" y="249.10" font-size="6.9" fill="#fff" textLength="50.70" lengthAdjust="spacingAndGlyphs">Enterococcaceae</text>
<circle cx="317.50" cy="246.30" r="1.95" fill="#ef9325" />
<text x="282.50" y="337.00" font-size="6.9" fill="#f0a03c" textLength="42.50" lengthAdjust="spacingAndGlyphs">Clostridiaceae</text>
<circle cx="298.30" cy="341.30" r="1.95" fill="#ef9325" />
<text x="222.00" y="349.90" font-size="6.9" fill="#2c5c9c" textLength="60.00" lengthAdjust="spacingAndGlyphs">Corynebacteriacaae</text>
<rect x="226.30" y="352.10" width="3.40" height="3.40" fill="#1c4a8c" />
<circle cx="288.30" cy="351.30" r="1.95" fill="#ef9325" />
<text x="291.30" y="353.70" font-size="6.9" fill="#f0a03c" textLength="53.00" lengthAdjust="spacingAndGlyphs">Turicibacteraceae</text>
<text x="225.80" y="366.20" font-size="6.9" fill="#2c5c9c" textLength="66.20" lengthAdjust="spacingAndGlyphs">Porphyromonadaceae</text>
<line x1="251.00" y1="368.00" x2="257.40" y2="374.20" stroke="#1c4a8c" stroke-width="0.8" />
<rect x="256.30" y="373.30" width="3.40" height="3.40" fill="#1c4a8c" />
<text x="222.5" y="375" font-size="6.5" fill="#2b2b2b" textLength="20.5" lengthAdjust="spacingAndGlyphs"><tspan font-style="italic">P</tspan> = .05</text>
<circle cx="273.80" cy="375.80" r="1.95" fill="#ef9325" />
<text x="275.80" y="373.60" font-size="6.9" fill="#f0a03c" textLength="53.00" lengthAdjust="spacingAndGlyphs">Ruminococcaceae</text>
<path d="M271,381 L277.5,386 L286,388.3" stroke="#c6c6c6" stroke-width="1.2" fill="none" />
<circle cx="271.00" cy="381.00" r="0.9" fill="#c9c9c9" />
<text x="286.30" y="391.90" font-size="6.9" fill="#cfcfcf" textLength="58.70" lengthAdjust="spacingAndGlyphs">Enterobacteriaceae</text>
<circle cx="242.50" cy="381.30" r="0.8" fill="#0c0c0c" />
<circle cx="243.30" cy="384.50" r="0.8" fill="#0c0c0c" />
<circle cx="246.30" cy="384.50" r="0.8" fill="#0c0c0c" />
<circle cx="250.00" cy="383.80" r="0.8" fill="#0c0c0c" />
<circle cx="251.00" cy="384.50" r="0.8" fill="#0c0c0c" />
<circle cx="258.80" cy="386.30" r="0.8" fill="#0c0c0c" />
<circle cx="260.80" cy="382.50" r="0.8" fill="#0c0c0c" />
<circle cx="262.50" cy="381.30" r="0.8" fill="#0c0c0c" />
<circle cx="263.00" cy="385.50" r="0.8" fill="#0c0c0c" />
<circle cx="264.50" cy="387.50" r="0.8" fill="#0c0c0c" />
<circle cx="266.00" cy="388.00" r="0.8" fill="#0c0c0c" />
<circle cx="267.50" cy="387.50" r="0.8" fill="#0c0c0c" />
<circle cx="269.50" cy="386.30" r="0.8" fill="#0c0c0c" />
<circle cx="270.50" cy="383.80" r="0.8" fill="#0c0c0c" />
<circle cx="268.80" cy="381.30" r="0.8" fill="#0c0c0c" />
<circle cx="272.50" cy="381.30" r="0.8" fill="#0c0c0c" />
<circle cx="274.50" cy="386.30" r="0.8" fill="#0c0c0c" />
<circle cx="277.50" cy="387.00" r="0.8" fill="#0c0c0c" />
<circle cx="290.00" cy="383.00" r="0.8" fill="#0c0c0c" />
<circle cx="297.30" cy="377.50" r="0.8" fill="#0c0c0c" />
<circle cx="261.50" cy="384.50" r="0.8" fill="#0c0c0c" />
<circle cx="265.30" cy="386.80" r="0.8" fill="#0c0c0c" />
<circle cx="266.80" cy="386.50" r="0.8" fill="#0c0c0c" />
<circle cx="268.20" cy="388.20" r="0.8" fill="#0c0c0c" />
<rect x="340.90" y="305.10" width="3.20" height="3.20" fill="#1c4a8c" />
<text x="348.00" y="309.10" font-size="6.8" fill="#2b2b2b" textLength="20.80" lengthAdjust="spacingAndGlyphs">control</text>
<circle cx="342.50" cy="317.00" r="1.95" fill="#ef9325" />
<text x="348.00" y="319.40" font-size="6.8" fill="#2b2b2b" textLength="22.80" lengthAdjust="spacingAndGlyphs">ligature</text>
<text x="385.00" y="195.40" font-size="11.5" fill="#111" font-weight="bold">E</text>
<text x="468.80" y="195.80" font-size="9.4" text-anchor="middle" fill="#2b2b2b" textLength="17.50" lengthAdjust="spacingAndGlyphs">Oral</text>
<path d="M435,222.5 V287 H499.3" stroke="#1a1a1a" stroke-width="1.15" fill="none" />
<line x1="432.00" y1="223.80" x2="435.00" y2="223.80" stroke="#1a1a1a" stroke-width="1.0" />
<text x="431.3" y="227.70" font-size="6.6" text-anchor="end" fill="#2b2b2b">e<tspan font-size="3.8" dy="-3.2">0</tspan></text>
<line x1="432.00" y1="236.50" x2="435.00" y2="236.50" stroke="#1a1a1a" stroke-width="1.0" />
<text x="431.3" y="240.40" font-size="6.6" text-anchor="end" fill="#2b2b2b">e<tspan font-size="3.8" dy="-3.2">–2</tspan></text>
<line x1="432.00" y1="249.30" x2="435.00" y2="249.30" stroke="#1a1a1a" stroke-width="1.0" />
<text x="431.3" y="253.20" font-size="6.6" text-anchor="end" fill="#2b2b2b">e<tspan font-size="3.8" dy="-3.2">–4</tspan></text>
<line x1="432.00" y1="261.80" x2="435.00" y2="261.80" stroke="#1a1a1a" stroke-width="1.0" />
<text x="431.3" y="265.70" font-size="6.6" text-anchor="end" fill="#2b2b2b">e<tspan font-size="3.8" dy="-3.2">–6</tspan></text>
<line x1="432.00" y1="274.50" x2="435.00" y2="274.50" stroke="#1a1a1a" stroke-width="1.0" />
<text x="431.3" y="278.40" font-size="6.6" text-anchor="end" fill="#2b2b2b">e<tspan font-size="3.8" dy="-3.2">–8</tspan></text>
<line x1="432.00" y1="287.00" x2="435.00" y2="287.00" stroke="#1a1a1a" stroke-width="1.0" />
<text x="431.3" y="290.90" font-size="6.6" text-anchor="end" fill="#2b2b2b">e<tspan font-size="3.8" dy="-3.2">–10</tspan></text>
<line x1="446.30" y1="287.00" x2="446.30" y2="290.20" stroke="#1a1a1a" stroke-width="1.0" />
<line x1="460.80" y1="287.00" x2="460.80" y2="290.20" stroke="#1a1a1a" stroke-width="1.0" />
<line x1="475.50" y1="287.00" x2="475.50" y2="290.20" stroke="#1a1a1a" stroke-width="1.0" />
<line x1="490.00" y1="287.00" x2="490.00" y2="290.20" stroke="#1a1a1a" stroke-width="1.0" />
<text x="449.50" y="297.80" font-size="6.9" text-anchor="end" fill="#2b2b2b" transform="rotate(-45 449.50 297.80)">day0 control</text>
<text x="464.00" y="297.80" font-size="6.9" text-anchor="end" fill="#2b2b2b" transform="rotate(-45 464.00 297.80)">day0 ligature</text>
<text x="478.70" y="297.80" font-size="6.9" text-anchor="end" fill="#2b2b2b" transform="rotate(-45 478.70 297.80)">day21 control</text>
<text x="493.20" y="297.80" font-size="6.9" text-anchor="end" fill="#2b2b2b" transform="rotate(-45 493.20 297.80)">day21 ligature</text>
<text x="395.40" y="254.50" font-size="8.6" text-anchor="middle" fill="#2b2b2b" textLength="72.00" lengthAdjust="spacingAndGlyphs" transform="rotate(-90 395.40 254.50)">Absolute abundance of</text>
<text x="404.20" y="255.00" font-size="8.6" text-anchor="middle" fill="#2b2b2b" textLength="50.00" lengthAdjust="spacingAndGlyphs" transform="rotate(-90 404.20 255.00)">bacteria (copies/</text>
<text x="414.20" y="255.00" font-size="8.6" text-anchor="middle" fill="#2b2b2b" textLength="32.00" lengthAdjust="spacingAndGlyphs" transform="rotate(-90 414.20 255.00)">1 ligature)</text>
<path d="M460.8,221.3 V206.3 H490 V208.8" stroke="#222" stroke-width="1.0" fill="none" />
<text x="475.50" y="207.00" font-size="7" text-anchor="middle" fill="#2b2b2b">**</text>
<path d="M475.5,221.3 V218.3 H490 V221.3" stroke="#222" stroke-width="1.0" fill="none" />
<text x="483.00" y="219.50" font-size="7" text-anchor="middle" fill="#2b2b2b">**</text>
<path d="M446,239.5 V236.8 H475.8 V239.5" stroke="#222" stroke-width="1.0" fill="none" />
<text x="460.80" y="237.20" font-size="7" text-anchor="middle" fill="#2b2b2b">*</text>
<path d="M446,253.3 V250.5 H460.8 V253.3" stroke="#222" stroke-width="1.0" fill="none" />
<text x="453.30" y="251.30" font-size="7" text-anchor="middle" fill="#2b2b2b">*</text>
<circle cx="444.30" cy="276.50" r="1.1" fill="#8089b8" />
<circle cx="448.80" cy="276.00" r="1.1" fill="#8089b8" />
<circle cx="446.30" cy="280.30" r="1.1" fill="#8089b8" />
<circle cx="446.30" cy="282.00" r="1.1" fill="#8089b8" />
<line x1="442.00" y1="277.60" x2="450.60" y2="277.60" stroke="#3b3f6b" stroke-width="0.9" />
<line x1="446.30" y1="275.20" x2="446.30" y2="280.50" stroke="#3b3f6b" stroke-width="0.7" />
<circle cx="460.80" cy="260.80" r="1.1" fill="#f8c98f" />
<circle cx="458.80" cy="263.50" r="1.1" fill="#f8c98f" />
<circle cx="462.80" cy="263.50" r="1.1" fill="#f8c98f" />
<circle cx="460.80" cy="266.50" r="1.1" fill="#f8c98f" />
<circle cx="460.80" cy="268.50" r="1.1" fill="#f8c98f" />
<line x1="456.40" y1="263.80" x2="465.20" y2="263.80" stroke="#b98a4e" stroke-width="0.9" />
<circle cx="475.50" cy="246.80" r="1.25" fill="#1c3f86" />
<circle cx="472.80" cy="248.80" r="1.25" fill="#1c3f86" />
<circle cx="478.30" cy="248.80" r="1.25" fill="#1c3f86" />
<circle cx="475.50" cy="250.50" r="1.25" fill="#1c3f86" />
<circle cx="475.50" cy="256.30" r="1.25" fill="#1c3f86" />
<line x1="471.20" y1="248.80" x2="479.80" y2="248.80" stroke="#10275c" stroke-width="0.9" />
<line x1="475.50" y1="246.00" x2="475.50" y2="252.00" stroke="#10275c" stroke-width="0.7" />
<circle cx="487.30" cy="230.30" r="1.1" fill="#ef9128" />
<circle cx="490.00" cy="228.20" r="1.1" fill="#ef9128" />
<circle cx="492.80" cy="230.30" r="1.1" fill="#ef9128" />
<circle cx="490.00" cy="231.50" r="1.1" fill="#ef9128" />
<circle cx="493.60" cy="229.60" r="1.1" fill="#ef9128" />
<line x1="485.60" y1="230.10" x2="494.40" y2="230.10" stroke="#7a4a12" stroke-width="0.9" />
<line x1="490.00" y1="228.00" x2="490.00" y2="232.20" stroke="#7a4a12" stroke-width="0.7" />
<text x="469.30" y="345.80" font-size="9.4" text-anchor="middle" fill="#2b2b2b" textLength="20.30" lengthAdjust="spacingAndGlyphs">Fecal</text>
<path d="M436.8,385.5 V451.3 H499.3" stroke="#1a1a1a" stroke-width="1.15" fill="none" />
<line x1="433.80" y1="388.00" x2="436.80" y2="388.00" stroke="#1a1a1a" stroke-width="1.0" />
<text x="431.60" y="390.40" font-size="6.6" text-anchor="end" fill="#2b2b2b">4</text>
<line x1="433.80" y1="403.80" x2="436.80" y2="403.80" stroke="#1a1a1a" stroke-width="1.0" />
<text x="431.60" y="406.20" font-size="6.6" text-anchor="end" fill="#2b2b2b">3</text>
<line x1="433.80" y1="419.50" x2="436.80" y2="419.50" stroke="#1a1a1a" stroke-width="1.0" />
<text x="431.60" y="421.90" font-size="6.6" text-anchor="end" fill="#2b2b2b">2</text>
<line x1="433.80" y1="435.30" x2="436.80" y2="435.30" stroke="#1a1a1a" stroke-width="1.0" />
<text x="431.60" y="437.70" font-size="6.6" text-anchor="end" fill="#2b2b2b">1</text>
<line x1="433.80" y1="451.00" x2="436.80" y2="451.00" stroke="#1a1a1a" stroke-width="1.0" />
<text x="431.60" y="453.40" font-size="6.6" text-anchor="end" fill="#2b2b2b">0</text>
<line x1="446.30" y1="451.30" x2="446.30" y2="454.50" stroke="#1a1a1a" stroke-width="1.0" />
<line x1="460.80" y1="451.30" x2="460.80" y2="454.50" stroke="#1a1a1a" stroke-width="1.0" />
<line x1="475.50" y1="451.30" x2="475.50" y2="454.50" stroke="#1a1a1a" stroke-width="1.0" />
<line x1="490.00" y1="451.30" x2="490.00" y2="454.50" stroke="#1a1a1a" stroke-width="1.0" />
<text x="449.50" y="462.10" font-size="6.9" text-anchor="end" fill="#2b2b2b" transform="rotate(-45 449.50 462.10)">day0 control</text>
<text x="464.00" y="462.10" font-size="6.9" text-anchor="end" fill="#2b2b2b" transform="rotate(-45 464.00 462.10)">day0 ligature</text>
<text x="478.70" y="462.10" font-size="6.9" text-anchor="end" fill="#2b2b2b" transform="rotate(-45 478.70 462.10)">day21 control</text>
<text x="493.20" y="462.10" font-size="6.9" text-anchor="end" fill="#2b2b2b" transform="rotate(-45 493.20 462.10)">day21 ligature</text>
<text x="400.30" y="418.50" font-size="8.6" text-anchor="middle" fill="#2b2b2b" textLength="71.00" lengthAdjust="spacingAndGlyphs" transform="rotate(-90 400.30 418.50)">Absolute abundance of</text>
<text x="410.90" y="418.50" font-size="8.6" text-anchor="middle" fill="#2b2b2b" textLength="66.00" lengthAdjust="spacingAndGlyphs" transform="rotate(-90 410.90 418.50)">bacteria (copies/DNA</text>
<text x="421.50" y="418.50" font-size="8.6" text-anchor="middle" fill="#2b2b2b" textLength="63.50" lengthAdjust="spacingAndGlyphs" transform="rotate(-90 421.50 418.50)">concentration ng/uL)</text>
<path d="M463,359.5 V356.8 H490.8 V372.5" stroke="#222" stroke-width="1.0" fill="none" />
<text x="476.80" y="357.60" font-size="7" text-anchor="middle" fill="#2b2b2b">*</text>
<path d="M445,391.3 V372.5 H478.8 V375" stroke="#222" stroke-width="1.0" fill="none" />
<text x="461.6" y="369.4" font-size="6.6" text-anchor="middle" fill="#2b2b2b" textLength="20.8" lengthAdjust="spacingAndGlyphs"><tspan font-style="italic">P</tspan> = .19</text>
<path d="M475.5,391.3 V383 H490.8 V385.5" stroke="#222" stroke-width="1.0" fill="none" />
<text x="483.20" y="384.00" font-size="7" text-anchor="middle" fill="#2b2b2b">*</text>
<path d="M445,409.5 V406.8 H462.5 V409.5" stroke="#222" stroke-width="1.0" fill="none" />
<text x="453.8" y="403.6" font-size="6.6" text-anchor="middle" fill="#2b2b2b" textLength="21" lengthAdjust="spacingAndGlyphs"><tspan font-style="italic">P</tspan> = .06</text>
<circle cx="443.30" cy="427.00" r="1.1" fill="#8089b8" />
<circle cx="448.80" cy="426.50" r="1.1" fill="#8089b8" />
<circle cx="443.20" cy="433.80" r="1.1" fill="#8089b8" />
<circle cx="448.00" cy="433.00" r="1.1" fill="#8089b8" />
<line x1="442.00" y1="430.00" x2="450.60" y2="430.00" stroke="#3b3f6b" stroke-width="0.9" />
<line x1="446.30" y1="427.30" x2="446.30" y2="432.80" stroke="#3b3f6b" stroke-width="0.7" />
<circle cx="457.80" cy="417.50" r="1.1" fill="#f8c98f" />
<circle cx="462.60" cy="418.50" r="1.1" fill="#f8c98f" />
<circle cx="460.80" cy="424.50" r="1.1" fill="#f8c98f" />
<circle cx="459.40" cy="426.00" r="1.1" fill="#f8c98f" />
<circle cx="460.80" cy="431.80" r="1.1" fill="#f8c98f" />
<line x1="456.60" y1="420.00" x2="465.20" y2="420.00" stroke="#222" stroke-width="0.9" />
<circle cx="475.50" cy="418.00" r="1.25" fill="#1c3f86" />
<circle cx="472.50" cy="424.50" r="1.25" fill="#1c3f86" />
<circle cx="478.50" cy="427.00" r="1.25" fill="#1c3f86" />
<circle cx="472.80" cy="430.50" r="1.25" fill="#1c3f86" />
<line x1="472.60" y1="427.00" x2="480.20" y2="427.00" stroke="#10275c" stroke-width="0.9" />
<circle cx="490.00" cy="392.00" r="1.1" fill="#ef9128" />
<circle cx="487.40" cy="397.00" r="1.1" fill="#ef9128" />
<circle cx="492.60" cy="398.00" r="1.1" fill="#ef9128" />
<circle cx="490.00" cy="400.00" r="1.1" fill="#ef9128" />
<circle cx="490.00" cy="410.00" r="1.1" fill="#ef9128" />
<line x1="485.60" y1="398.30" x2="495.00" y2="398.30" stroke="#3a2a10" stroke-width="0.9" />
<text x="8.00" y="449.00" font-size="11.5" fill="#111" font-weight="bold">F</text>
<text x="97.00" y="449.30" font-size="9.4" text-anchor="middle" fill="#2b2b2b" textLength="39.80" lengthAdjust="spacingAndGlyphs">HCT day0</text>
<text x="261.20" y="449.80" font-size="9.4" text-anchor="middle" fill="#2b2b2b" textLength="43.80" lengthAdjust="spacingAndGlyphs">HCT day14</text>
<path d="M16.9,457.4 V455.2 H177.2 V457.4" stroke="#2a2a2a" stroke-width="1.0" fill="none" />
<path d="M180.8,457.4 V455.2 H341.8 V457.4" stroke="#2a2a2a" stroke-width="1.0" fill="none" />
<text x="57.50" y="465.40" font-size="6.8" text-anchor="middle" fill="#2b2b2b" textLength="35.00" lengthAdjust="spacingAndGlyphs">Allo control</text>
<text x="138.80" y="465.40" font-size="6.8" text-anchor="middle" fill="#2b2b2b" textLength="36.40" lengthAdjust="spacingAndGlyphs">Allo ligature</text>
<text x="219.80" y="465.40" font-size="6.8" text-anchor="middle" fill="#2b2b2b" textLength="34.60" lengthAdjust="spacingAndGlyphs">Allo control</text>
<text x="302.40" y="465.40" font-size="6.8" text-anchor="middle" fill="#2b2b2b" textLength="36.30" lengthAdjust="spacingAndGlyphs">Allo ligature</text>
<text x="12.40" y="510.50" font-size="6.6" text-anchor="middle" fill="#2b2b2b" textLength="15.00" lengthAdjust="spacingAndGlyphs" transform="rotate(-90 12.40 510.50)">DAPI</text>
<text x="12.40" y="590.00" font-size="6.6" text-anchor="middle" fill="#2b2b2b" font-style="italic" textLength="40.00" lengthAdjust="spacingAndGlyphs" transform="rotate(-90 12.40 590.00)">Enterococcus</text>
<text x="12.40" y="672.00" font-size="6.6" text-anchor="middle" fill="#2b2b2b" textLength="19.50" lengthAdjust="spacingAndGlyphs" transform="rotate(-90 12.40 672.00)">merge</text>
<rect x="16.80" y="470.00" width="326.00" height="242.60" fill="#cfcfd6" />
<rect x="16.80" y="470.00" width="80.40" height="80.40" fill="#05040f" />
<rect x="17" y="470" width="80" height="80" fill="#3c2a99" filter="url(#nz1)"/>
<svg x="16.80" y="470.00" width="80.40" height="80.40" viewBox="0 0 80 80" preserveAspectRatio="none">
</svg>
<rect x="16.80" y="551.70" width="80.40" height="78.50" fill="#08080a" />
<rect x="16.80" y="631.60" width="80.40" height="81.00" fill="#05040f" />
<rect x="17" y="632" width="80" height="80" fill="#3c2a99" filter="url(#nz1)"/>
<svg x="16.80" y="631.60" width="80.40" height="81.00" viewBox="0 0 80 80" preserveAspectRatio="none">
</svg>
<rect x="98.60" y="470.00" width="79.00" height="80.40" fill="#05040f" />
<rect x="99" y="470" width="78" height="80" fill="#3c2a99" filter="url(#nz2)"/>
<svg x="98.60" y="470.00" width="79.00" height="80.40" viewBox="0 0 80 80" preserveAspectRatio="none">
<g opacity="0.8"><ellipse cx="36" cy="6" rx="16" ry="10" fill="url(#dk)"/><ellipse cx="10" cy="44" rx="10" ry="14" fill="url(#dk)"/><ellipse cx="70" cy="46" rx="12" ry="22" fill="url(#dk)"/><ellipse cx="30" cy="74" rx="20" ry="9" fill="url(#dk)"/></g>
</svg>
<rect x="98.60" y="551.70" width="79.00" height="78.50" fill="#08080a" />
<rect x="98.60" y="631.60" width="79.00" height="81.00" fill="#05040f" />
<rect x="99" y="632" width="78" height="80" fill="#3c2a99" filter="url(#nz2)"/>
<svg x="98.60" y="631.60" width="79.00" height="81.00" viewBox="0 0 80 80" preserveAspectRatio="none">
<g opacity="0.8"><ellipse cx="36" cy="6" rx="16" ry="10" fill="url(#dk)"/><ellipse cx="10" cy="44" rx="10" ry="14" fill="url(#dk)"/><ellipse cx="70" cy="46" rx="12" ry="22" fill="url(#dk)"/><ellipse cx="30" cy="74" rx="20" ry="9" fill="url(#dk)"/></g>
</svg>
<rect x="180.20" y="470.00" width="80.20" height="80.40" fill="#05040f" />
<rect x="181" y="470" width="79" height="80" fill="#3c2a99" filter="url(#nz3)"/>
<svg x="180.20" y="470.00" width="80.20" height="80.40" viewBox="0 0 80 80" preserveAspectRatio="none">
</svg>
<rect x="180.20" y="551.70" width="80.20" height="78.50" fill="#08080a" />
<rect x="180.20" y="631.60" width="80.20" height="81.00" fill="#05040f" />
<rect x="181" y="632" width="79" height="80" fill="#3c2a99" filter="url(#nz3)"/>
<svg x="180.20" y="631.60" width="80.20" height="81.00" viewBox="0 0 80 80" preserveAspectRatio="none">
</svg>
<rect x="261.80" y="470.00" width="81.00" height="80.40" fill="#05040f" />
<rect x="262" y="470" width="80" height="80" fill="#3c2a99" filter="url(#nz4)"/>
<svg x="261.80" y="470.00" width="81.00" height="80.40" viewBox="0 0 80 80" preserveAspectRatio="none">
<ellipse cx="46" cy="62" rx="32" ry="26" fill="url(#dk)"/><ellipse cx="40" cy="78" rx="48" ry="14" fill="url(#dk)"/><ellipse cx="76" cy="40" rx="12" ry="30" fill="url(#dk)" opacity="0.6"/>
</svg>
<rect x="261.80" y="551.70" width="81.00" height="78.50" fill="#08080a" />
<rect x="261.80" y="631.60" width="81.00" height="81.00" fill="#05040f" />
<rect x="262" y="632" width="80" height="80" fill="#3c2a99" filter="url(#nz4)"/>
<svg x="261.80" y="631.60" width="81.00" height="81.00" viewBox="0 0 80 80" preserveAspectRatio="none">
<ellipse cx="46" cy="62" rx="32" ry="26" fill="url(#dk)"/><ellipse cx="40" cy="78" rx="48" ry="14" fill="url(#dk)"/><ellipse cx="76" cy="40" rx="12" ry="30" fill="url(#dk)" opacity="0.6"/>
</svg>
<rect x="67.50" y="544.90" width="25.00" height="1.30" fill="#ffffff" />
<rect x="149.50" y="544.90" width="25.00" height="1.30" fill="#ffffff" />
<rect x="230.00" y="544.90" width="25.00" height="1.30" fill="#ffffff" />
<rect x="313.00" y="544.90" width="25.00" height="1.30" fill="#ffffff" />
<polygon points="143.80,563.00 155.50,558.00 154.60,564.60" fill="#ffffff"/>
<polygon points="150.00,578.80 162.50,573.30 162.00,580.20" fill="#ffffff"/>
<polygon points="130.00,622.00 118.80,615.00 117.00,621.30" fill="#ffffff"/>
<polygon points="291.30,571.80 303.80,566.30 303.00,573.30" fill="#ffffff"/>
<polygon points="281.80,584.50 294.30,578.80 293.80,585.80" fill="#ffffff"/>
<polygon points="314.50,599.50 326.30,593.80 326.30,600.80" fill="#ffffff"/>
<polygon points="333.80,608.00 321.30,610.50 324.50,616.30" fill="#ffffff"/>
<circle cx="142.60" cy="563.40" r="0.45" fill="#c23a3a" />
<circle cx="148.80" cy="579.30" r="0.45" fill="#c23a3a" />
<circle cx="131.20" cy="622.60" r="0.45" fill="#c23a3a" />
<circle cx="290.00" cy="572.20" r="0.45" fill="#c23a3a" />
<circle cx="280.50" cy="585.00" r="0.45" fill="#c23a3a" />
<circle cx="313.20" cy="600.00" r="0.45" fill="#c23a3a" />
<circle cx="335.00" cy="607.40" r="0.45" fill="#c23a3a" />
<text x="396.60" y="519.60" font-size="11.5" fill="#111" font-weight="bold">G</text>
<rect x="461.00" y="586.80" width="10.70" height="25.70" fill="#f0901f" />
<rect x="496.20" y="573.70" width="10.60" height="38.80" fill="#f0901f" />
<path d="M436.3,535 V612.5 H511.8" stroke="#1a1a1a" stroke-width="1.15" fill="none" />
<line x1="433.30" y1="536.50" x2="436.30" y2="536.50" stroke="#1a1a1a" stroke-width="1.0" />
<text x="431.00" y="538.90" font-size="6.8" text-anchor="end" fill="#2b2b2b">150</text>
<line x1="433.30" y1="561.80" x2="436.30" y2="561.80" stroke="#1a1a1a" stroke-width="1.0" />
<text x="431.00" y="564.20" font-size="6.8" text-anchor="end" fill="#2b2b2b">100</text>
<line x1="433.30" y1="587.20" x2="436.30" y2="587.20" stroke="#1a1a1a" stroke-width="1.0" />
<text x="431.00" y="589.60" font-size="6.8" text-anchor="end" fill="#2b2b2b">50</text>
<line x1="433.30" y1="612.50" x2="436.30" y2="612.50" stroke="#1a1a1a" stroke-width="1.0" />
<text x="431.00" y="614.90" font-size="6.8" text-anchor="end" fill="#2b2b2b">0</text>
<line x1="448.00" y1="612.50" x2="448.00" y2="615.70" stroke="#1a1a1a" stroke-width="1.0" />
<line x1="466.30" y1="612.50" x2="466.30" y2="615.70" stroke="#1a1a1a" stroke-width="1.0" />
<line x1="483.00" y1="612.50" x2="483.00" y2="615.70" stroke="#1a1a1a" stroke-width="1.0" />
<line x1="501.30" y1="612.50" x2="501.30" y2="615.70" stroke="#1a1a1a" stroke-width="1.0" />
<text x="451.20" y="623.30" font-size="6.9" text-anchor="end" fill="#2b2b2b" transform="rotate(-45 451.20 623.30)">Allo control</text>
<text x="469.50" y="623.30" font-size="6.9" text-anchor="end" fill="#2b2b2b" transform="rotate(-45 469.50 623.30)">Allo ligature</text>
<text x="486.20" y="623.30" font-size="6.9" text-anchor="end" fill="#2b2b2b" transform="rotate(-45 486.20 623.30)">Allo control</text>
<text x="504.50" y="623.30" font-size="6.9" text-anchor="end" fill="#2b2b2b" transform="rotate(-45 504.50 623.30)">Allo ligature</text>
<text x="404.00" y="572.50" font-size="8.6" text-anchor="middle" fill="#2b2b2b" textLength="77.50" lengthAdjust="spacingAndGlyphs" transform="rotate(-90 404.00 572.50)">Number of <tspan font-style="italic">enterococcus</tspan>/</text>
<text x="414.00" y="572.50" font-size="8.6" text-anchor="middle" fill="#2b2b2b" textLength="36.00" lengthAdjust="spacingAndGlyphs" transform="rotate(-90 414.00 572.50)">lymph node</text>
<path d="M465.5,533.8 V530.5 H501.3 V533.8" stroke="#222" stroke-width="1.0" fill="none" />
<text x="483.80" y="531.50" font-size="7" text-anchor="middle" fill="#2b2b2b">*</text>
<path d="M445.5,549.5 V546.3 H480.5 V549.5" stroke="#222" stroke-width="1.0" fill="none" />
<text x="462.6" y="543.2" font-size="6.6" text-anchor="middle" fill="#2b2b2b" textLength="21" lengthAdjust="spacingAndGlyphs"><tspan font-style="italic">P</tspan> = .71</text>
<path d="M483.4,594 V551.8 H501.3 V555.5" stroke="#222" stroke-width="1.0" fill="none" />
<text x="492.50" y="553.00" font-size="7" text-anchor="middle" fill="#2b2b2b">*</text>
<path d="M447.5,593.5 V567 H465.5 V570" stroke="#222" stroke-width="1.0" fill="none" />
<text x="456.80" y="568.00" font-size="7" text-anchor="middle" fill="#2b2b2b">*</text>
<line x1="466.30" y1="580.50" x2="466.30" y2="593.00" stroke="#222" stroke-width="0.8" />
<line x1="464.10" y1="580.50" x2="468.50" y2="580.50" stroke="#222" stroke-width="0.8" />
<line x1="464.10" y1="593.00" x2="468.50" y2="593.00" stroke="#222" stroke-width="0.8" />
<line x1="501.30" y1="565.00" x2="501.30" y2="581.30" stroke="#222" stroke-width="0.8" />
<line x1="499.10" y1="565.00" x2="503.50" y2="565.00" stroke="#222" stroke-width="0.8" />
<line x1="499.10" y1="581.30" x2="503.50" y2="581.30" stroke="#222" stroke-width="0.8" />
<line x1="448.30" y1="611.20" x2="448.30" y2="612.60" stroke="#222" stroke-width="0.8" />
<line x1="445.10" y1="611.20" x2="451.50" y2="611.20" stroke="#222" stroke-width="0.8" />
<line x1="445.10" y1="612.60" x2="451.50" y2="612.60" stroke="#222" stroke-width="0.8" />
<line x1="483.40" y1="610.80" x2="483.40" y2="612.40" stroke="#222" stroke-width="0.8" />
<line x1="480.20" y1="610.80" x2="486.60" y2="610.80" stroke="#222" stroke-width="0.8" />
<line x1="480.20" y1="612.40" x2="486.60" y2="612.40" stroke="#222" stroke-width="0.8" />
<circle cx="444.40" cy="612.00" r="1.5" fill="#fff" stroke="#3f3548" stroke-width="0.85" />
<circle cx="448.30" cy="612.00" r="1.5" fill="#fff" stroke="#3f3548" stroke-width="0.85" />
<circle cx="452.70" cy="612.00" r="1.5" fill="#fff" stroke="#3f3548" stroke-width="0.85" />
<circle cx="479.60" cy="612.00" r="1.5" fill="#fff" stroke="#3f3548" stroke-width="0.85" />
<circle cx="483.40" cy="611.60" r="1.5" fill="#fff" stroke="#3f3548" stroke-width="0.85" />
<circle cx="487.60" cy="612.00" r="1.5" fill="#fff" stroke="#3f3548" stroke-width="0.85" />
<circle cx="466.30" cy="578.80" r="1.5" fill="#fff" stroke="#3f3548" stroke-width="0.85" />
<circle cx="461.80" cy="584.50" r="1.5" fill="#fff" stroke="#3f3548" stroke-width="0.85" />
<circle cx="470.50" cy="585.00" r="1.5" fill="#fff" stroke="#3f3548" stroke-width="0.85" />
<circle cx="466.30" cy="589.50" r="1.5" fill="#fff" stroke="#3f3548" stroke-width="0.85" />
<circle cx="466.30" cy="593.80" r="1.5" fill="#fff" stroke="#3f3548" stroke-width="0.85" />
<circle cx="501.40" cy="561.80" r="1.5" fill="#fff" stroke="#3f3548" stroke-width="0.85" />
<circle cx="501.40" cy="568.00" r="1.5" fill="#fff" stroke="#3f3548" stroke-width="0.85" />
<circle cx="501.40" cy="573.70" r="1.5" fill="#fff" stroke="#3f3548" stroke-width="0.85" />
<circle cx="501.40" cy="579.40" r="1.5" fill="#fff" stroke="#3f3548" stroke-width="0.85" />
<circle cx="501.40" cy="584.00" r="1.5" fill="#fff" stroke="#3f3548" stroke-width="0.85" />
<path d="M425.8,652.5 V656.3 H455 V652.5" stroke="#222" stroke-width="1.0" fill="none" />
<path d="M460,652.5 V656.3 H489.5 V652.5" stroke="#222" stroke-width="1.0" fill="none" />
<text x="440.50" y="666.00" font-size="6.8" text-anchor="middle" fill="#2b2b2b" textLength="15.00" lengthAdjust="spacingAndGlyphs">day0</text>
<text x="475.00" y="666.00" font-size="6.8" text-anchor="middle" fill="#2b2b2b" textLength="17.50" lengthAdjust="spacingAndGlyphs">day14</text>
<!-- outer frame -->
<rect x="0" y="0" width="520" height="1" fill="#4d4d4d"/>
<rect x="0" y="718.6" width="520" height="1.4" fill="#4d4d4d"/>
<rect x="0" y="0" width="1.05" height="720" fill="#4d4d4d"/>
<rect x="518.7" y="0" width="1.3" height="720" fill="#4d4d4d"/>
</svg>
</body>
</html>
